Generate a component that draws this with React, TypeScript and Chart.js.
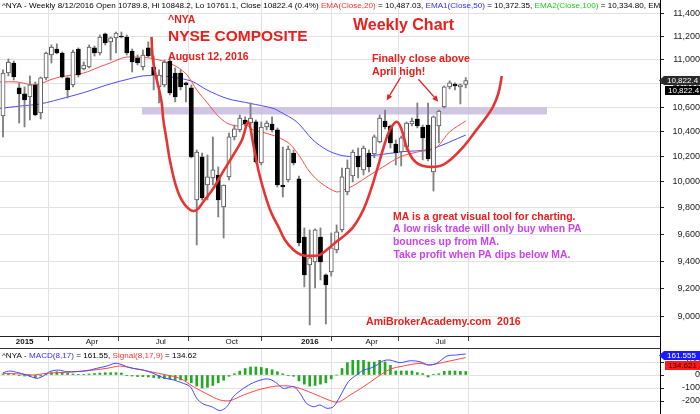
import React, { useEffect, useRef } from 'react';
import { Chart, registerables } from 'chart.js';
Chart.register(...registerables);

// ---- weekly bars: index 0 = week of 19 Dec 2014 ... 86 = week of 12 Aug 2016 ----
const OPEN = [10528,10887,10972,10761,10711,10686,10786,10552,10845,11041,11093,11058,10845,10786,11093,10921,10938,11102,11058,11224,11154,11189,11206,11197,11075,11015,10938,11102,10938,10769,10786,10989,10887,10887,10803,10761,9860,10197,9976,10031,10054,9806,10039,10357,10414,10495,10470,10479,10149,10438,10462,10414,9976,10015,10228,10023,9579,9373,9394,9579,9300,9321,9483,9632,9922,10046,10204,10094,10228,10220,10317,10487,10446,10300,10236,10276,10462,10503,10438,10454,10078,10446,10602,10769,10794,10769,10789.8];
const HIGH = [10913,11007,10989,10803,10769,10862,10811,10853,11067,11128,11137,11067,10853,11084,11102,10981,11128,11119,11215,11232,11197,11241,11241,11215,11093,11041,11084,11154,11032,10913,10998,11007,10930,10913,10811,10786,10252,10228,10212,10357,10117,9976,10389,10454,10536,10520,10635,10495,10479,10487,10520,10430,10276,10284,10252,10046,9647,9632,9640,9647,9307,9609,9670,10109,10173,10252,10268,10284,10252,10373,10536,10577,10454,10333,10365,10479,10511,10635,10454,10635,10528,10577,10778,10820,10803,10794,10848.2];
const LOW = [10357,10862,10828,10470,10438,10495,10528,10503,10828,10972,11050,10845,10677,10769,10853,10913,10930,11032,11041,11128,10998,11058,11189,11041,10896,10955,10913,11024,10744,10635,10769,10702,10644,10744,10644,10189,9520,9860,9860,9976,9730,9572,10015,10333,10398,10446,10454,10149,10133,10414,10398,9960,9883,9999,10133,9513,9213,8944,9206,9263,8951,9292,9461,9617,9899,9999,10031,10054,10078,10189,10309,10422,10268,10133,10125,10252,10446,10430,10173,10165,9929,10309,10594,10752,10744,10627,10761.1];
const CLOSE = [10887,10981,10853,10711,10660,10786,10536,10845,11058,11110,11058,10853,10744,11067,10870,10955,11110,11058,11197,11145,11189,11232,11197,11058,10981,10972,11041,11032,10870,10870,10981,10719,10686,10769,10786,10197,10236,9876,10039,10094,9860,9976,10357,10422,10511,10462,10511,10157,10438,10470,10414,9976,9960,10260,10149,9535,9300,9424,9632,9394,9227,9498,9617,10039,10109,10236,10117,10268,10117,10357,10511,10438,10309,10228,10349,10470,10487,10446,10349,10181,10520,10569,10769,10803,10778,10786,10822.4];

// EMA(20) and EMA(50) (week position, value)
const EMA20_W = [-0.6,2.6,5.6,7.4,8.7,10.6,15,18,20,22.7,25.5,27.3,29.7,32.3,34.2,36,38,39.8,41.6,43.5,45,46.5,48.7,51,53.3,55.2,57,59.3,62,63.2,65,68.2,70.6,73.8,77,79.4,80.7,83,86];
const EMA20_V = [10811,10811,10786,10803,10828,10853,10887,10940,10974,11021,11021,11015,10989,10940,10870,10744,10635,10536,10470,10446,10462,10414,10389,10357,10300,10197,10078,9984,9922,9937,9968,10054,10117,10197,10236,10252,10276,10398,10487.03];
const EMA50_W = [-0.6,3.2,6.9,11.9,15.6,19.3,22.7,26,29.2,32.9,35.3,37.9,41.6,45.9,50.2,51.5,54.6,57.6,60.2,62.6,65,69.5,74.3,79.4,86];
const EMA50_V = [10590,10610,10627,10683,10730,10786,10828,10862,10862,10842,10813,10744,10673,10632,10591,10562,10479,10333,10252,10212,10199,10212,10239,10258,10372.35];

// hand-drawn red curve (week position, price)
const CURVE_W = [27.6,27.8,28.3,28.9,29.5,29.8,30.4,31.0,32.0,33.2,34.8,36.0,37.2,39.1,40.9,42.8,44.4,45.6,46.5,47.5,48.7,49.9,51.2,52.4,54.0,55.5,57.4,58.9,60.5,62.0,63.6,65.1,66.4,67.5,68.6,69.5,70.7,71.9,73.2,74.1,75.0,76.3,78.1,81.2,83.1,85.6,88.0,89.9,91.1,92.1,92.7];
const CURVE_V = [11197,11024,10882,10769,10633,10495,10333,10173,9989,9860,9783,9783,9845,9951,10081,10212,10333,10479,10300,10086,9899,9758,9655,9557,9483,9446,9439,9446,9495,9545,9595,9655,9738,9837,9968,10094,10268,10414,10481,10414,10279,10173,10125,10125,10173,10279,10414,10523,10607,10721,10861];

// resistance band (April high)
const BAND_W = [25.8, 101.1];
const BAND_HI = 10600;
const BAND_LO = 10540;

// arrows: from (week, price) to (week, price)
const ARROW_FROM_W = [73.9, 77.2];
const ARROW_FROM_V = [10851, 10834];
const ARROW_TO_W = [71.3, 80.9];
const ARROW_TO_V = [10656, 10646];

// MACD panel
const MACD_W = [0,1.3,2.5,4.4,6.3,7.5,8.7,10.3,11.8,13.7,15.6,17.4,19.3,20.8,21.7,23,24.2,26.1,27.9,29.8,31.7,33.5,34.8,36,37.2,38.8,40.3,41.6,42.8,44.7,46.5,48.4,49.6,50.9,52.1,54,55.2,56.4,57.7,58.9,60.2,61.4,62.6,64.2,65.7,67,68.2,69.5,70.7,71.9,73.8,75.7,77.5,79.1,80.6,82.5,84.3,86];
const MACD_V = [18,31,21,0,-26,-8,26,38,26,26,33,51,69,90,85,64,51,38,13,-21,-38,-64,-90,-179,-223,-244,-274,-244,-167,-103,-59,-33,-33,-64,-103,-90,-141,-218,-244,-231,-256,-244,-167,-51,0,38,51,77,110,115,95,110,102,77,90,146,154,161.55];
const SIG_W = [0,3.2,5.6,8.1,11.8,15.6,19.3,21.7,24.2,27.3,30.4,32.9,35.4,37.9,40.3,42.2,44.7,47.8,50.9,53.3,55.2,58.3,61.4,62.6,64.5,67,69.5,71.9,74.4,77.5,79.1,81.8,86];
const SIG_V = [13,8,0,13,21,33,51,69,51,26,0,-26,-90,-146,-192,-197,-154,-110,-85,-85,-103,-154,-205,-205,-154,-90,-18,44,69,90,77,97,134.62];
const HIST = [8,10,5,-5,-8,-10,-20,-8,10,18,25,22,15,8,5,5,8,12,15,18,18,18,15,-3,-8,-12,-12,-15,-20,-25,-28,-32,-35,-38,-42,-60,-85,-100,-95,-80,-60,-40,-10,10,30,50,62,62,58,50,40,25,10,-3,-10,-45,-70,-85,-80,-70,-60,-30,0,50,95,113,113,113,100,100,113,100,74,31,31,31,31,18,10,-15,5,10,28,31,31,28,27];

// axes
const DATE_TICKS = [2, 15, 28, 41, 55, 67, 80];
const DATE_LABELS = ['2015', 'Apr', 'Jul', 'Oct', '2016', 'Apr', 'Jul'];
const PRICE_TICKS = [9000, 9200, 9400, 9600, 9800, 10000, 10200, 10400, 10600, 10800, 11000, 11200, 11400];
const MACD_TICKS = [-200, -100, 0, 100];
const W_MIN = -0.56, W_MAX = 122.1;
const P_MIN = 8867, P_MAX = 11525;
const M_MIN = -300, M_MAX = 207.7;

const SANS = '"Liberation Sans", Arial, Helvetica, sans-serif';
const GRID = '#e2e2e2';
const RED = '#e8201e';
const VIOLET = '#cc44ee';

const TITLE_SEGS: [string, string][] = [
  ['^NYA - Weekly 8/12/2016 Open 10789.8, Hi 10848.2, Lo 10761.1, Close 10822.4 (0.4%) ', '#000'],
  ['EMA(Close,20)', '#ff3030'],
  [' = 10,487.03, ', '#000'],
  ['EMA1(Close,50)', '#3030ff'],
  [' = 10,372.35, ', '#000'],
  ['EMA2(Close,100)', '#22cc22'],
  [' = 10,334.80, ', '#000'],
  ['EMA3(Close,200)', '#000'],
];
const MACD_SEGS: [string, string][] = [
  ['^NYA - ', '#000'],
  ['MACD(8,17)', '#3030ff'],
  [' = 161.55, ', '#000'],
  ['Signal(8,17,9)', '#ff3030'],
  [' = 134.62', '#000'],
];

const pts = (ws: number[], vs: number[]) => ws.map((w, i) => ({ x: w, y: vs[i] }));
const isUp = (i: number) => CLOSE[i] >= OPEN[i];

function drawTag(ctx: CanvasRenderingContext2D, x0: number, cy: number, text: string, bg: string, fg: string, arrow: boolean) {
  ctx.save();
  ctx.fillStyle = bg;
  ctx.beginPath();
  if (arrow) {
    ctx.moveTo(x0, cy);
    ctx.lineTo(x0 + 5, cy - 4.5);
    ctx.lineTo(700, cy - 4.5);
    ctx.lineTo(700, cy + 4.5);
    ctx.lineTo(x0 + 5, cy + 4.5);
  } else {
    ctx.rect(x0 + 5, cy - 4.5, 700 - x0 - 5, 9);
  }
  ctx.closePath();
  ctx.fill();
  ctx.fillStyle = fg;
  ctx.font = `8px ${SANS}`;
  ctx.textBaseline = 'middle';
  ctx.textAlign = 'left';
  ctx.fillText(text, x0 + 8, cy + 0.5);
  ctx.restore();
}

function drawSegs(ctx: CanvasRenderingContext2D, segs: [string, string][], x: number, y: number) {
  ctx.font = `8.1px ${SANS}`;
  ctx.textBaseline = 'alphabetic';
  ctx.textAlign = 'left';
  let px = x;
  for (const [t, c] of segs) {
    ctx.fillStyle = c;
    ctx.fillText(t, px, y);
    px += ctx.measureText(t).width;
  }
}

const mainDecor = {
  id: 'mainDecor',
  afterDatasetsDraw(chart: any) {
    const { ctx, scales } = chart;
    const xs = scales.x, ys = scales.y;
    ctx.save();
    ctx.strokeStyle = RED;
    ctx.fillStyle = RED;
    ctx.lineWidth = 1.3;
    for (let k = 0; k < ARROW_FROM_W.length; k++) {
      const x1 = xs.getPixelForValue(ARROW_FROM_W[k]);
      const y1 = ys.getPixelForValue(ARROW_FROM_V[k]);
      const x2 = xs.getPixelForValue(ARROW_TO_W[k]);
      const y2 = ys.getPixelForValue(ARROW_TO_V[k]);
      const a = Math.atan2(y2 - y1, x2 - x1);
      ctx.beginPath();
      ctx.moveTo(x1, y1);
      ctx.lineTo(x2 - 3 * Math.cos(a), y2 - 3 * Math.sin(a));
      ctx.stroke();
      ctx.beginPath();
      ctx.moveTo(x2, y2);
      ctx.lineTo(x2 - 6 * Math.cos(a) + 2.8 * Math.sin(a), y2 - 6 * Math.sin(a) - 2.8 * Math.cos(a));
      ctx.lineTo(x2 - 6 * Math.cos(a) - 2.8 * Math.sin(a), y2 - 6 * Math.sin(a) + 2.8 * Math.cos(a));
      ctx.closePath();
      ctx.fill();
    }
    ctx.restore();
  },
  afterDraw(chart: any) {
    const { ctx, chartArea: area, scales } = chart;
    const xs = scales.x, ys = scales.y;
    // title line (clipped to plot)
    ctx.save();
    ctx.beginPath();
    ctx.rect(area.left, 0, area.right - area.left, area.bottom);
    ctx.clip();
    drawSegs(ctx, TITLE_SEGS, 2, 8);
    ctx.restore();

    ctx.save();
    ctx.textAlign = 'left';
    ctx.textBaseline = 'alphabetic';
    ctx.fillStyle = RED;
    ctx.font = `bold 10.5px ${SANS}`;
    ctx.fillText('^NYA', 168, 23);
    ctx.font = `bold 15.5px ${SANS}`;
    ctx.fillText('NYSE COMPOSITE', 168, 41);
    ctx.font = `bold 10.6px ${SANS}`;
    ctx.fillText('August 12, 2016', 168, 60);
    ctx.font = `bold 16px ${SANS}`;
    ctx.fillText('Weekly Chart', 353, 29.5);
    ctx.font = `bold 10.7px ${SANS}`;
    ctx.fillText('Finally close above', 372, 62);
    ctx.fillText('April high!', 372, 75);
    ctx.font = `bold 10.4px ${SANS}`;
    ctx.fillText('MA is a great visual tool for charting.', 393, 219.5);
    ctx.fillStyle = VIOLET;
    ctx.fillText('A low risk trade will only buy when PA', 393, 232);
    ctx.fillText('bounces up from MA.', 393, 244.5);
    ctx.fillText('Take profit when PA dips below MA.', 393.5, 257.5);
    ctx.fillStyle = RED;
    ctx.font = `bold 10.6px ${SANS}`;
    ctx.fillText('AmiBrokerAcademy.com  2016', 366, 324.5);

    // date labels under the axis
    ctx.fillStyle = '#111';
    DATE_TICKS.forEach((w, k) => {
      const lab = DATE_LABELS[k];
      const bold = /^\d{4}$/.test(lab);
      ctx.font = `${bold ? 'bold ' : ''}8px ${SANS}`;
      ctx.fillText(lab, xs.getPixelForValue(w) + 2, 344);
    });

    // axis continuation into the gap
    ctx.strokeStyle = '#000';
    ctx.lineWidth = 1;
    ctx.beginPath();
    ctx.moveTo(Math.round(area.right) + 0.5, area.bottom);
    ctx.lineTo(Math.round(area.right) + 0.5, chart.height);
    ctx.stroke();
    ctx.restore();

    // price tags
    const cy = ys.getPixelForValue(CLOSE[CLOSE.length - 1]);
    drawTag(ctx, area.right - 1, cy, '10,822.4', '#2b2b2b', '#fff', true);
    drawTag(ctx, area.right, cy + 10, '10,822.4', '#000', '#fff', false);
  },
};

const macdDecor = {
  id: 'macdDecor',
  afterDraw(chart: any) {
    const { ctx, chartArea: area, scales } = chart;
    const ys = scales.y;
    ctx.save();
    ctx.strokeStyle = '#333';
    ctx.lineWidth = 1;
    ctx.beginPath();
    ctx.moveTo(0, 0.5);
    ctx.lineTo(area.right, 0.5);
    ctx.stroke();
    drawSegs(ctx, MACD_SEGS, 2, 9.5);
    ctx.restore();
    const by = Math.max(ys.getPixelForValue(MACD_V[MACD_V.length - 1]), 6);
    const ry = Math.max(ys.getPixelForValue(SIG_V[SIG_V.length - 1]), by + 10);
    drawTag(ctx, area.right - 1, by + 1.5, '161.555', '#1a1aff', '#fff', true);
    drawTag(ctx, area.right, ry + 1.5, '134.621', '#ff1a1a', '#300', false);
  },
};

function mainConfig(): any {
  return {
    type: 'bar',
    data: {
      datasets: [
        { type: 'line', data: pts(BAND_W, BAND_W.map(() => BAND_HI)), borderWidth: 0, pointRadius: 0, fill: false, order: 10 },
        { type: 'line', data: pts(BAND_W, BAND_W.map(() => BAND_LO)), borderWidth: 0, pointRadius: 0, fill: '-1', backgroundColor: 'rgba(196,184,220,0.8)', order: 9 },
        { type: 'line', data: pts(EMA20_W, EMA20_V), borderColor: '#ff4a4a', borderWidth: 1, pointRadius: 0, tension: 0.3, order: 8 },
        { type: 'line', data: pts(EMA50_W, EMA50_V), borderColor: '#4a4aff', borderWidth: 1, pointRadius: 0, tension: 0.3, order: 8 },
        {
          type: 'bar', grouped: false, order: 7,
          data: OPEN.map((_, i) => ({ x: i, y: [LOW[i], HIGH[i]] })),
          backgroundColor: '#808080', borderWidth: 0, barThickness: 1.2,
        },
        {
          type: 'bar', grouped: false, order: 6,
          data: OPEN.map((o, i) => ({ x: i, y: [o, CLOSE[i]] })),
          backgroundColor: (c: any) => (isUp(c.dataIndex) ? '#ffffff' : '#000000'),
          borderColor: (c: any) => (isUp(c.dataIndex) ? '#555555' : '#000000'),
          borderWidth: 1, borderSkipped: false, barThickness: 4.2,
        },
        { type: 'line', data: pts(CURVE_W, CURVE_V), borderColor: '#e53533', borderWidth: 2.6, pointRadius: 0, tension: 0.35, order: 1 },
      ],
    },
    options: {
      responsive: false, animation: false, devicePixelRatio: 1, events: [],
      layout: { padding: 0 },
      plugins: { legend: { display: false }, tooltip: { enabled: false } },
      scales: {
        x: {
          type: 'linear', min: W_MIN, max: W_MAX, offset: false,
          afterBuildTicks: (s: any) => { s.ticks = DATE_TICKS.map((v) => ({ value: v })); },
          afterFit: (s: any) => { s.height = 12; s.paddingLeft = 0; s.paddingRight = 0; },
          ticks: { display: false },
          grid: { color: GRID, tickColor: '#444', tickLength: 5, drawTicks: true },
          border: { color: '#222', width: 1 },
        },
        y: {
          type: 'logarithmic', position: 'right', min: P_MIN, max: P_MAX,
          afterBuildTicks: (s: any) => { s.ticks = PRICE_TICKS.map((v) => ({ value: v })); },
          afterFit: (s: any) => { s.width = 40; s.paddingTop = 0; s.paddingBottom = 0; },
          ticks: {
            callback: (v: any) => Number(v).toLocaleString('en-US'),
            font: { family: SANS, size: 9 }, color: '#222', crossAlign: 'far', padding: 6,
          },
          grid: { color: GRID, tickColor: '#222', tickLength: 4 },
          border: { color: '#000' },
        },
      },
    },
    plugins: [mainDecor],
  };
}

function macdConfig(): any {
  return {
    type: 'bar',
    data: {
      datasets: [
        { type: 'bar', grouped: false, order: 5, data: HIST.map((v, i) => ({ x: i, y: v })), backgroundColor: '#22a822', barThickness: 2 },
        { type: 'line', data: pts(SIG_W, SIG_V), borderColor: '#ff4545', borderWidth: 1, pointRadius: 0, tension: 0.3, order: 2 },
        { type: 'line', data: pts(MACD_W, MACD_V), borderColor: '#4545ff', borderWidth: 1, pointRadius: 0, tension: 0.3, order: 1 },
      ],
    },
    options: {
      responsive: false, animation: false, devicePixelRatio: 1, events: [],
      layout: { padding: 0 },
      plugins: { legend: { display: false }, tooltip: { enabled: false } },
      scales: {
        x: {
          type: 'linear', min: W_MIN, max: W_MAX, offset: false,
          afterBuildTicks: (s: any) => { s.ticks = DATE_TICKS.map((v) => ({ value: v })); },
          afterFit: (s: any) => { s.height = 0; s.paddingLeft = 0; s.paddingRight = 0; },
          ticks: { display: false },
          grid: { color: GRID, drawTicks: false },
          border: { display: false },
        },
        y: {
          type: 'linear', position: 'right', min: M_MIN, max: M_MAX,
          afterBuildTicks: (s: any) => { s.ticks = MACD_TICKS.map((v) => ({ value: v })); },
          afterFit: (s: any) => { s.width = 40; s.paddingTop = 0; s.paddingBottom = 0; },
          ticks: { font: { family: SANS, size: 9 }, color: '#222', crossAlign: 'far', padding: 15 },
          grid: { color: GRID, tickColor: '#222', tickLength: 4 },
          border: { color: '#000' },
        },
      },
    },
    plugins: [macdDecor],
  };
}

export default function App() {
  const mainRef = useRef<HTMLCanvasElement>(null);
  const macdRef = useRef<HTMLCanvasElement>(null);
  useEffect(() => {
    document.body.style.margin = '0';
    const main = new Chart(mainRef.current as HTMLCanvasElement, mainConfig());
    const macd = new Chart(macdRef.current as HTMLCanvasElement, macdConfig());
    return () => { main.destroy(); macd.destroy(); };
  }, []);
  return (
    <div style={{ position: 'relative', width: 700, height: 414, background: '#fff' }}>
      <canvas ref={mainRef} width={700} height={348} style={{ position: 'absolute', left: 0, top: 0, width: 700, height: 348 }} />
      <canvas ref={macdRef} width={700} height={66} style={{ position: 'absolute', left: 0, top: 348, width: 700, height: 66 }} />
    </div>
  );
}
